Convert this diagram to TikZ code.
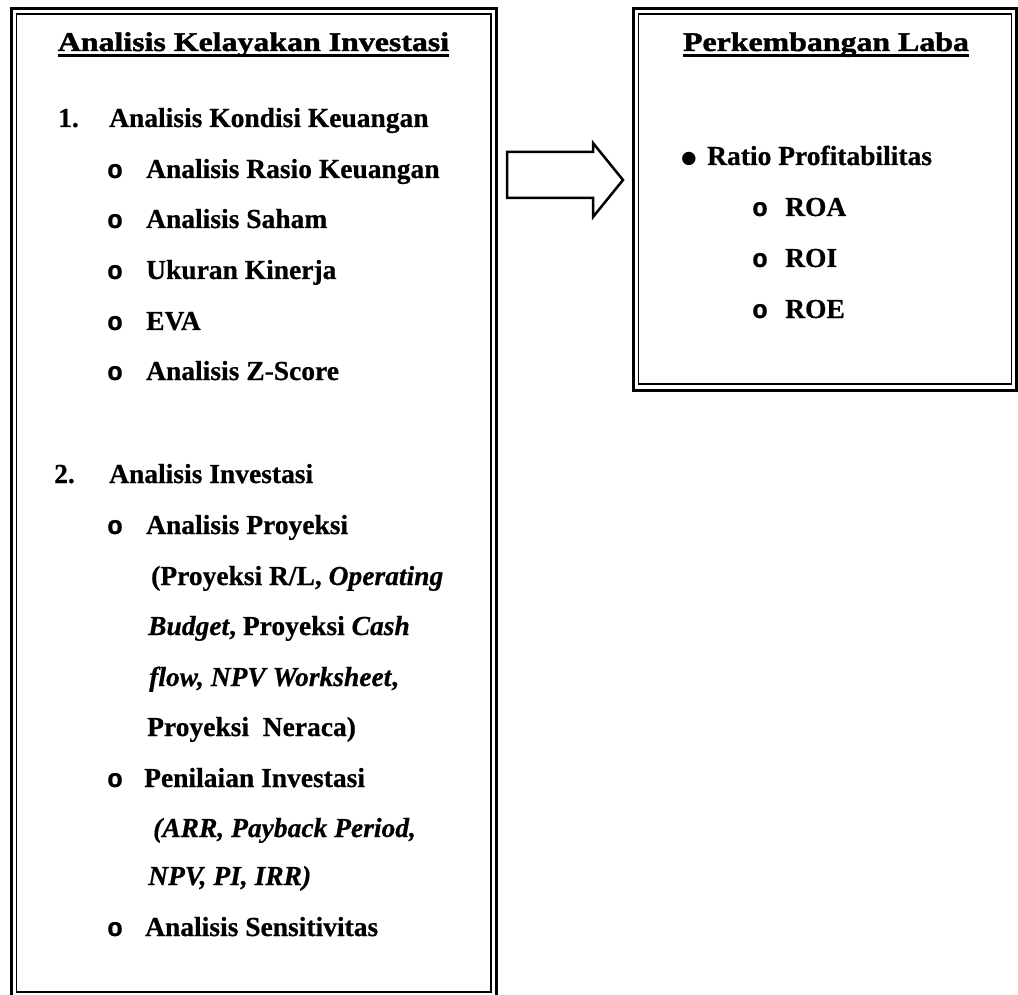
\documentclass[tikz,border=0pt]{standalone}
\usepackage{fontspec}
\setmainfont{Liberation Serif}[BoldFeatures={FakeBold=0.6},BoldItalicFeatures={FakeBold=0.6}]
\newfontfamily\myTitleFamily{Liberation Serif}[FakeStretch=1.18,BoldFeatures={FakeBold=1.6}]
\newfontfamily\myBulletFamily{Liberation Mono}[BoldFeatures={FakeBold=0.8}]
\newcommand\myBody{\fontsize{27.5}{33}\selectfont\bfseries}
\newcommand\myTitle{\myTitleFamily\fontsize{27}{32}\selectfont\bfseries}
\newcommand\myBul{\myBulletFamily\fontsize{26}{30}\selectfont\bfseries}
\tikzset{
  txt/.style={anchor=base west, inner sep=0pt, font=\myBody},
  ttl/.style={anchor=base, inner sep=0pt, font=\myTitle},
  bul/.style={anchor=base west, inner sep=0pt, font=\myBul},
  outerline/.style={line width=3pt},
  innerline/.style={line width=1.4pt},
  blockarrow/.style={line width=2.5pt, line join=miter},
  uline/.style={line width=2.6pt}
}
\begin{document}
\begin{tikzpicture}[x=1pt, y=-1pt]
\useasboundingbox (0,0) rectangle (1018,995);
\clip (0,0) rectangle (1018,995);
\fill[white] (0,0) rectangle (1018,995);

% left box
\coordinate (LO1) at (11.5,8.5);  \coordinate (LO2) at (496.5,999);
\coordinate (LI1) at (16.5,14);   \coordinate (LI2) at (491,992);
\draw[outerline] (LO1) rectangle (LO2);
\draw[innerline] (LI1) rectangle (LI2);

% right box
\coordinate (RO1) at (633.5,8.5); \coordinate (RO2) at (1016.5,390);
\coordinate (RI1) at (638.5,14);  \coordinate (RI2) at (1011.5,384);
\draw[outerline] (RO1) rectangle (RO2);
\draw[innerline] (RI1) rectangle (RI2);

% block arrow
\coordinate (A1) at (507,152); \coordinate (A2) at (593,152);
\coordinate (A3) at (593,143); \coordinate (A4) at (623,180);
\coordinate (A5) at (593,217); \coordinate (A6) at (593,198);
\coordinate (A7) at (507,198);
\draw[blockarrow] (A1) -- (A2) -- (A3) -- (A4) -- (A5) -- (A6) -- (A7) -- cycle;

% left titles
\node[ttl] (lt) at (253.5,51) {Analisis Kelayakan Investasi};
\draw[uline] ([yshift=-4.5pt]lt.base west) -- ([yshift=-4.5pt]lt.base east);

\node[txt] (n1) at (58,127) {1.};
\node[txt] (n1t) at (109,127) {Analisis Kondisi Keuangan};
\node[bul] (b1) at (107,178) {o};
\node[txt] (t1) at (146,178) {Analisis Rasio Keuangan};
\node[bul] (b2) at (107,228) {o};
\node[txt] (t2) at (146,228) {Analisis Saham};
\node[bul] (b3) at (107,279) {o};
\node[txt] (t3) at (146,279) {Ukuran Kinerja};
\node[bul] (b4) at (107,330) {o};
\node[txt] (t4) at (146,330) {EVA};
\node[bul] (b5) at (107,380) {o};
\node[txt] (t5) at (146,380) {Analisis Z-Score};

\node[txt] (n2) at (54,483) {2.};
\node[txt] (n2t) at (109,483) {Analisis Investasi};
\node[bul] (b6) at (107,534) {o};
\node[txt] (t6) at (146,534) {Analisis Proyeksi};
\node[txt] (c1) at (151,585) {(Proyeksi R/L, \textit{Operating}};
\node[txt] (c2) at (148,635) {\textit{Budget}, Proyeksi \textit{Cash}};
\node[txt] (c3) at (149,686) {\textit{flow, NPV Worksheet},};
\node[txt] (c4) at (147,736) {Proyeksi\ \ Neraca)};
\node[bul] (b7) at (107,787) {o};
\node[txt] (t7) at (144,787) {Penilaian Investasi};
\node[txt] (c5) at (153,837) {\textit{(ARR, Payback Period,}};
\node[txt] (c6) at (148,885) {\textit{NPV, PI, IRR)}};
\node[bul] (b8) at (107,936) {o};
\node[txt] (t8) at (145,936) {Analisis Sensitivitas};

% right box text
\node[ttl] (rt) at (826,51) {Perkembangan Laba};
\draw[uline] ([yshift=-4.5pt]rt.base west) -- ([yshift=-4.5pt]rt.base east);
\node[inner sep=0pt, font=\fontsize{56}{56}\selectfont] (dot) at (689,165) {•};
\node[txt] (r0) at (707,165) {Ratio Profitabilitas};
\node[bul] (rb1) at (752,216) {o};
\node[txt] (r1) at (785,216) {ROA};
\node[bul] (rb2) at (752,267) {o};
\node[txt] (r2) at (785,267) {ROI};
\node[bul] (rb3) at (752,318) {o};
\node[txt] (r3) at (785,318) {ROE};
\end{tikzpicture}
\end{document}
